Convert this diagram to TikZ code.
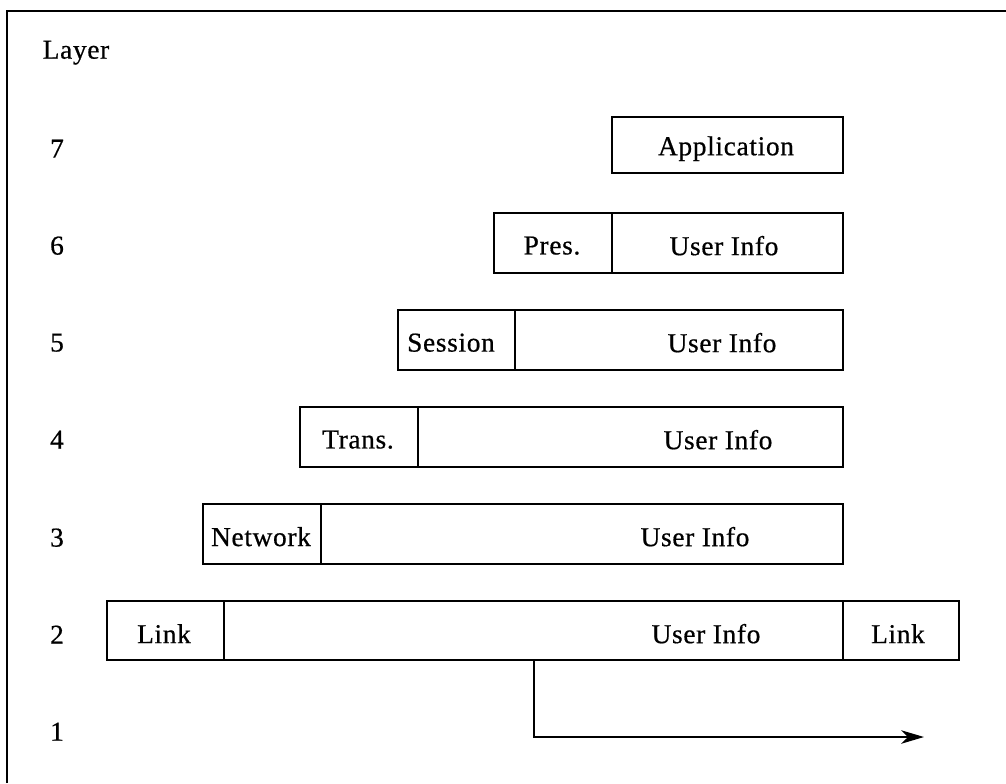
\documentclass[tikz,border=0pt]{standalone}
\usepackage{fontspec}
\setmainfont{Liberation Serif}[LetterSpace=2.5,FakeBold=0.6]
\usetikzlibrary{fit,arrows.meta}
\begin{document}
\begin{tikzpicture}[x=0.75pt,y=-0.75pt,
  cell/.style={draw=black,line width=2pt,inner sep=0pt,rectangle},
  lab/.style={font=\fontsize{20.5}{24}\selectfont,inner sep=0pt,anchor=center,yshift=-2pt},
  frame/.style={line width=2pt},
  flow/.style={line width=1.8pt,-{Stealth[length=17pt,width=10pt,inset=5pt]}}]
\useasboundingbox (0,0) rectangle (1006,783);
% frame
\coordinate (fa) at (7,783);
\coordinate (fb) at (7,11);
\coordinate (fc) at (1006,11);
\draw[frame] (fa) -- (fb) -- (fc);
% layer labels
\node[lab] (layer) at (76,50) {Layer};
\node[lab] (n7) at (57,146) {7};
\node[lab] (n6) at (57,243) {6};
\node[lab] (n5) at (57,340) {5};
\node[lab] (n4) at (57,437) {4};
\node[lab] (n3) at (57,535) {3};
\node[lab] (n2) at (57,632) {2};
\node[lab] (n1) at (57,729) {1};
% row 7
\node[cell,fit={(612,117) (843,173)}] (c7) {};
\node[lab] (t7) at (726,146) {Application};
% row 6
\node[cell,fit={(494,213) (612,273)}] (c6a) {};
\node[cell,fit={(612,213) (843,273)}] (c6b) {};
\node[lab] (t6a) at (552,243) {Pres.};
\node[lab] (t6b) at (724,243) {User Info};
% row 5
\node[cell,fit={(398,310) (515,370)}] (c5a) {};
\node[cell,fit={(515,310) (843,370)}] (c5b) {};
\node[lab] (t5a) at (451,340) {Session};
\node[lab] (t5b) at (722,340) {User Info};
% row 4
\node[cell,fit={(300,407) (418,467)}] (c4a) {};
\node[cell,fit={(418,407) (843,467)}] (c4b) {};
\node[lab] (t4a) at (358,437) {Trans.};
\node[lab] (t4b) at (718,437) {User Info};
% row 3
\node[cell,fit={(203,504) (321,564)}] (c3a) {};
\node[cell,fit={(321,504) (843,564)}] (c3b) {};
\node[lab] (t3a) at (261,534) {Network};
\node[lab] (t3b) at (695,534) {User Info};
% row 2
\node[cell,fit={(107,601) (224,660)}] (c2a) {};
\node[cell,fit={(224,601) (843,660)}] (c2b) {};
\node[cell,fit={(843,601) (959,660)}] (c2c) {};
\node[lab] (t2a) at (164,631) {Link};
\node[lab] (t2b) at (706,631) {User Info};
\node[lab] (t2c) at (898,631) {Link};
% arrow
\coordinate (as) at (534,660);
\coordinate (ac) at (534,737);
\coordinate (ae) at (924,737);
\draw[flow] (as) -- (ac) -- (ae);
\end{tikzpicture}
\end{document}
